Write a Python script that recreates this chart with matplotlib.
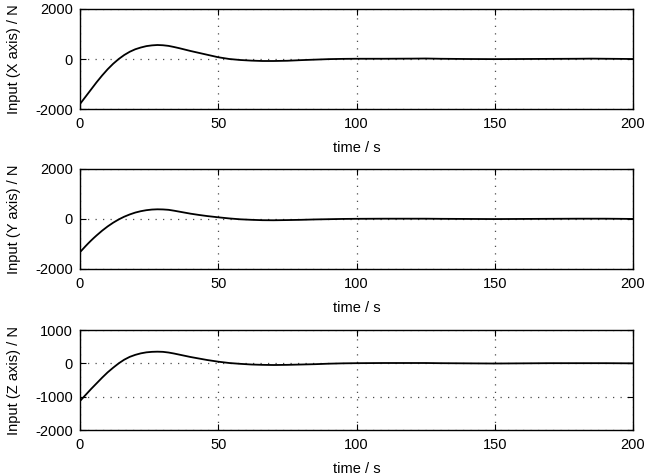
import matplotlib
matplotlib.use("Agg")
import matplotlib.pyplot as plt

plt.rcParams['font.family'] = ['Liberation Sans', 'DejaVu Sans']
plt.rcParams['axes.unicode_minus'] = False

# time samples (s)
time = [0, 1, 2, 3, 4, 5, 6, 8, 10, 12, 14, 16, 18, 20, 22, 24, 26, 28, 30, 32,
        34, 36, 38, 40, 43, 46, 50, 54, 58, 62, 66, 70, 75, 80, 85, 90, 95, 100,
        110, 120, 125, 130, 140, 150, 160, 170, 180, 185, 190, 200]

# control input, X axis (N)
input_x = [-1800, -1655, -1510, -1365, -1220, -1075, -930, -660, -410, -190, 0, 160, 290, 390,
           460, 515, 545, 560, 550, 525, 480, 430, 375, 320, 245, 170, 70, 0, -40, -65,
           -80, -80, -70, -45, -25, -5, 5, 10, 10, 15, 20, 10, 0, -5, 0, 5, 10, 15, 10, 0]

# control input, Y axis (N)
input_y = [-1330, -1210, -1090, -975, -865, -760, -660, -470, -300, -150, -20, 90, 180, 255,
           310, 350, 375, 385, 380, 365, 330, 290, 250, 210, 160, 115, 65, 20, -15, -35,
           -50, -53, -45, -35, -20, -10, 0, 5, 10, 10, 10, 5, 0, -5, 0, 5, 10, 10, 10, 0]

# control input, Z axis (N)
input_z = [-1130, -1040, -950, -860, -770, -685, -600, -430, -270, -130, 0, 110, 195, 255,
           300, 330, 345, 350, 345, 325, 295, 260, 225, 190, 145, 100, 50, 10, -15, -35,
           -45, -50, -45, -35, -25, -10, 0, 5, 10, 10, 10, 5, 0, -5, 0, 5, 5, 5, 5, 0]

panels = [
    (input_x, "Input (X axis) / N", (-2000, 2000), [-2000, 0, 2000]),
    (input_y, "Input (Y axis) / N", (-2000, 2000), [-2000, 0, 2000]),
    (input_z, "Input (Z axis) / N", (-2000, 1000), [-2000, -1000, 0, 1000]),
]

fig = plt.figure(figsize=(6.53, 4.76), dpi=100)
bottoms = [0.771, 0.435, 0.0966]

for (vals, label, ylim, yticks), b in zip(panels, bottoms):
    ax = fig.add_axes([0.1225, b, 0.8469, 0.2101])
    ax.plot(time, vals, color='black', lw=1.3)
    ax.set_xlim(0, 200)
    ax.set_ylim(*ylim)
    ax.set_xticks([0, 50, 100, 150, 200])
    ax.set_yticks(yticks)
    ax.grid(True, linestyle=(0, (1, 5)), color='0.3', lw=0.9)
    ax.tick_params(direction='in', top=True, right=True, length=4, labelsize=10.5)
    ax.tick_params(axis='x', pad=6)
    ax.tick_params(axis='y', pad=5)
    for s in ax.spines.values():
        s.set_linewidth(1.0)
    ax.set_xlabel("time / s", fontsize=10.5, labelpad=7)
    ax.set_ylabel(label, fontsize=10.5, labelpad=10)

fig.savefig("out.png", dpi=100)
